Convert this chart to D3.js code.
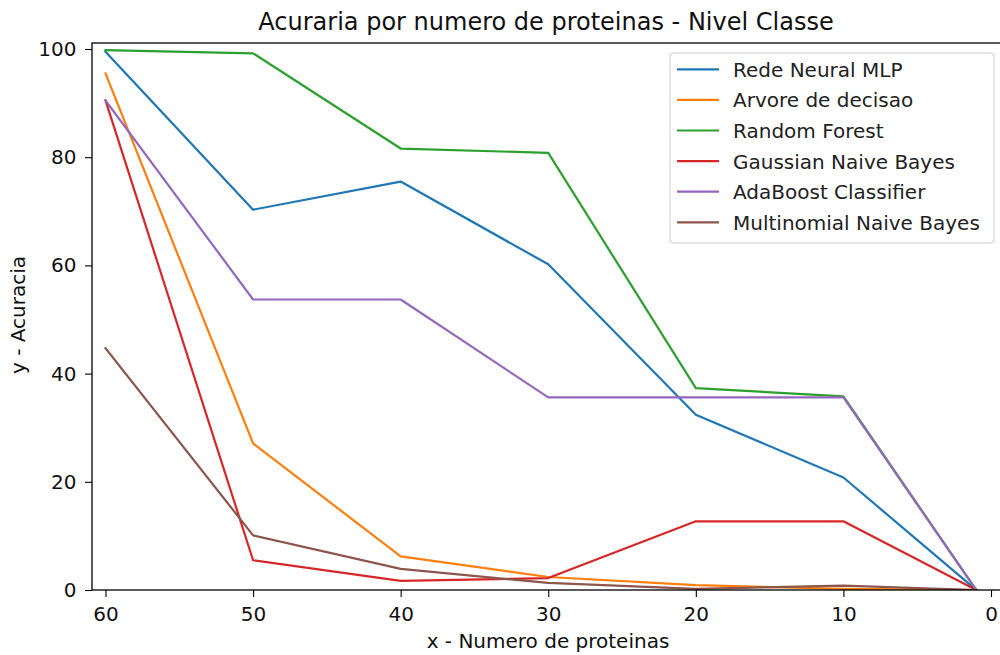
<!DOCTYPE html>
<html>
<head>
<meta charset="utf-8">
<script src="https://cdn.jsdelivr.net/npm/d3@7"></script>
<style>
  html, body { margin: 0; padding: 0; background: #fff; }
  svg { display: block; font-family: "DejaVu Sans", sans-serif; }
</style>
</head>
<body>
<svg id="chart" width="1000" height="655"></svg>
<script>
// Number of proteins per run (x axis, plotted in descending order)
const proteinCounts = [60, 50, 40, 30, 20, 10, 1];

// Accuracy of each classifier at every protein count
const redeNeuralMLP         = [99.5, 70.3, 75.5, 60.2, 32.4, 20.8, 0];
const arvoreDecisao         = [95.5, 27.1, 6.2, 2.4, 0.9, 0.2, 0];
const randomForest          = [99.8, 99.2, 81.6, 80.8, 37.3, 35.8, 0];
const gaussianNaiveBayes    = [90.5, 5.5, 1.7, 2.2, 12.7, 12.7, 0];
const adaBoostClassifier    = [90.5, 53.7, 53.7, 35.6, 35.6, 35.6, 0];
const multinomialNaiveBayes = [44.7, 10.1, 3.9, 1.3, 0.2, 0.8, 0];

const seriesNames = ["Rede Neural MLP", "Arvore de decisao", "Random Forest",
  "Gaussian Naive Bayes", "AdaBoost Classifier", "Multinomial Naive Bayes"];
const seriesValues = [redeNeuralMLP, arvoreDecisao, randomForest,
  gaussianNaiveBayes, adaBoostClassifier, multinomialNaiveBayes];
const seriesColors = ["#1f77b4", "#ff7f0e", "#2ca02c", "#d62728", "#9467bd", "#8c564b"];

const xTicks = [60, 50, 40, 30, 20, 10, 0];
const yTicks = [0, 20, 40, 60, 80, 100];

const svg = d3.select("#chart");
const plot = { left: 92, right: 1000, top: 43, bottom: 590 };

const x = d3.scaleLinear().domain([60, 0]).range([105.5, 991]);
const y = d3.scaleLinear().domain([0, 100]).range([590, 49]);

// clip to the axes area
svg.append("defs").append("clipPath").attr("id", "plotClip")
  .append("rect")
  .attr("x", plot.left).attr("y", plot.top)
  .attr("width", plot.right - plot.left).attr("height", plot.bottom - plot.top);

// series lines
const line = d3.line().x((d, i) => x(proteinCounts[i])).y(d => y(d));
const gLines = svg.append("g").attr("clip-path", "url(#plotClip)");
seriesValues.forEach((vals, i) => {
  gLines.append("path")
    .datum(vals)
    .attr("d", line)
    .attr("fill", "none")
    .attr("stroke", seriesColors[i])
    .attr("stroke-width", 2.2)
    .attr("stroke-linejoin", "round")
    .attr("stroke-linecap", "square");
});

// axes
const xAxis = d3.axisBottom(x).tickValues(xTicks).tickSize(7).tickPadding(10).tickFormat(d3.format("d"));
const yAxis = d3.axisLeft(y).tickValues(yTicks).tickSize(7).tickPadding(8.5).tickFormat(d3.format("d"));

const gx = svg.append("g").attr("transform", `translate(0,${plot.bottom})`).call(xAxis);
const gy = svg.append("g").attr("transform", `translate(${plot.left},0)`).call(yAxis);
[gx, gy].forEach(g => {
  g.select(".domain").remove();
  g.selectAll(".tick line").attr("stroke", "#000").attr("stroke-width", 1.1);
  g.selectAll(".tick text").attr("fill", "#111").style("font-size", "20px")
    .style("font-family", "'DejaVu Sans', sans-serif");
});

// spines
svg.append("rect")
  .attr("x", plot.left).attr("y", plot.top)
  .attr("width", plot.right - plot.left + 2).attr("height", plot.bottom - plot.top)
  .attr("fill", "none").attr("stroke", "#000").attr("stroke-width", 1.3);

// title and axis labels
svg.append("text")
  .attr("x", 546).attr("y", 30)
  .attr("text-anchor", "middle").style("font-size", "24px").attr("fill", "#111")
  .text("Acuraria por numero de proteinas - Nivel Classe");

svg.append("text")
  .attr("x", 548).attr("y", 648)
  .attr("text-anchor", "middle").style("font-size", "20px").attr("fill", "#111")
  .text("x - Numero de proteinas");

svg.append("text")
  .attr("transform", `translate(25,315) rotate(-90)`)
  .attr("text-anchor", "middle").style("font-size", "20px").attr("fill", "#111")
  .text("y - Acuracia");

// legend
const legend = svg.append("g");
legend.append("rect")
  .attr("x", 670).attr("y", 53).attr("width", 324).attr("height", 190)
  .attr("rx", 3).attr("fill", "#fff").attr("fill-opacity", 0.8)
  .attr("stroke", "#ccc").attr("stroke-width", 1);
seriesNames.forEach((name, i) => {
  const yy = 69.3 + i * 30.6;
  legend.append("line")
    .attr("x1", 677).attr("x2", 719).attr("y1", yy).attr("y2", yy)
    .attr("stroke", seriesColors[i]).attr("stroke-width", 2.2);
  legend.append("text")
    .attr("x", 733).attr("y", yy + 7.5)
    .style("font-size", "20px").attr("fill", "#222")
    .text(name);
});
</script>
</body>
</html>
